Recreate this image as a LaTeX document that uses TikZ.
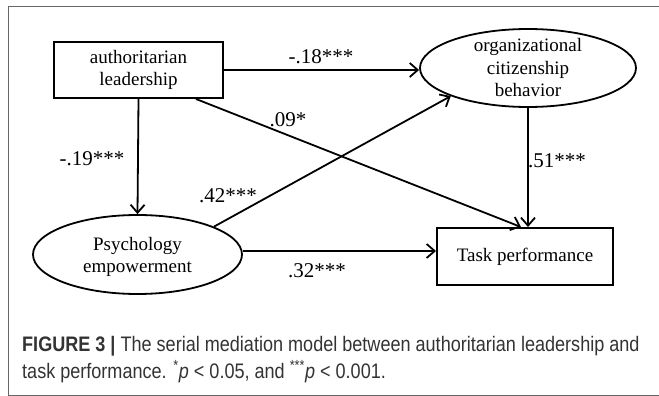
\documentclass[tikz,border=0pt]{standalone}
\usepackage{fontspec}
\setmainfont{Liberation Serif}
\newfontfamily\capfont[FakeStretch=0.86]{Liberation Sans}
\usetikzlibrary{shapes.geometric,arrows.meta,calc}
\begin{document}
\begin{tikzpicture}[x=1pt,y=-1pt,
 boxnode/.style={draw,line width=2pt,rectangle,inner sep=0pt},
 ellnode/.style={draw,line width=1.8pt,ellipse,inner sep=0pt},
 nodetext/.style={align=center,font=\fontsize{19}{22.5}\selectfont,inner sep=0pt},
 coef/.style={font=\fontsize{21}{24}\selectfont,anchor=base,inner sep=0pt},
 arr/.style={line width=1.8pt,-{Straight Barb[length=8pt,width=14pt]}},
 captext/.style={anchor=base west,inner sep=0pt,font=\capfont\fontsize{21}{25}\selectfont,text=black!80}
]
\useasboundingbox (0,0) rectangle (659,396);
\draw[black!60,line width=1pt] (659.5,6.5) -- (8,6.5) -- (8,395.5) -- (659.5,395.5);

\node[boxnode,nodetext,minimum width=169pt,minimum height=56pt] (al) at (138.5,70) {authoritarian\\leadership};
\node[ellnode,minimum width=216pt,minimum height=78pt] (ocb) at (528,68) {};
\node[nodetext] (ocbt) at (528,68) {organizational\\citizenship\\behavior};
\node[ellnode,minimum width=209pt,minimum height=79pt] (pe) at (137.5,254.5) {};
\node[nodetext] (pet) at (137.5,257) {Psychology\\empowerment};
\node[boxnode,nodetext,minimum width=176pt,minimum height=57pt] (tp) at (525,256.5) {Task performance};

\draw[arr] (al.east) -- (al.east -| ocb.west);
\draw[arr] (al.south) -- (pe.north);
\draw[arr] ([xshift=-28pt]al.south east) -- ([xshift=-4pt]tp.north);
\draw[arr] (pe.20) -- (ocb.200);
\draw[arr] (ocb.south) -- (ocb.south |- tp.north);
\draw[arr] ([yshift=3.5pt]pe.east) -- ([yshift=3.5pt]pe.east -| tp.west);

\node[coef] (l18) at (321,64) {-.18***};
\node[coef] (l09) at (288,126) {.09*};
\node[coef] (l19) at (92,165) {-.19***};
\node[coef] (l42) at (228,202) {.42***};
\node[coef] (l51) at (557,167) {.51***};
\node[coef] (l32) at (317,277) {.32***};

\node[captext] (cap1) at (22,351) {\textbf{FIGURE 3 |} The serial mediation model between authoritarian leadership and};
\node[captext] (cap2) at (22,378) {task performance. \textsuperscript{*}\textit{p} < 0.05, and \textsuperscript{***}\textit{p} < 0.001.};
\end{tikzpicture}
\end{document}
